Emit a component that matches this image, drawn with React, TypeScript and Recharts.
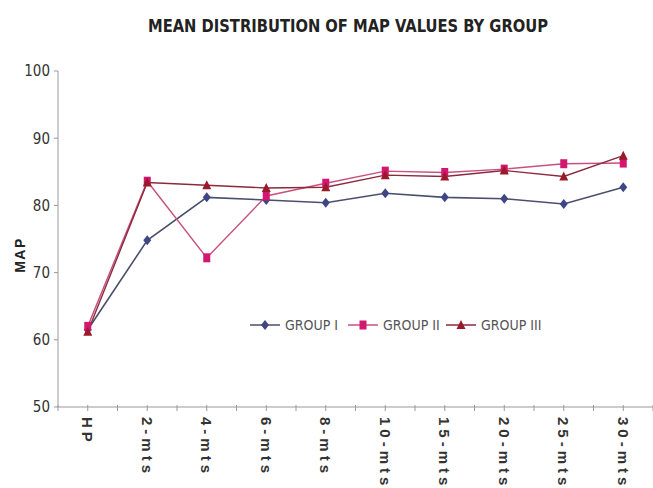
import React from "react";
import { LineChart, Line, XAxis, YAxis } from "recharts";

const categories = ["HP", "2-mts", "4-mts", "6-mts", "8-mts", "10-mts", "15-mts", "20-mts", "25-mts", "30-mts"];
const groupI = [61.5, 74.8, 81.2, 80.8, 80.4, 81.8, 81.2, 81.0, 80.2, 82.7];
const groupII = [62.0, 83.6, 72.2, 81.4, 83.3, 85.1, 84.9, 85.4, 86.2, 86.3];
const groupIII = [61.2, 83.4, 83.0, 82.6, 82.7, 84.5, 84.3, 85.2, 84.3, 87.4];
const yTicks = [50, 60, 70, 80, 90, 100];

const seriesNames = ["GROUP I", "GROUP II", "GROUP III"];

const data = categories.map((c, i) => ({
    name: c,
    g1: groupI[i],
    g2: groupII[i],
    g3: groupIII[i],
}));

const W = 653;
const H = 488;
const LEFT = 58;
const BAND = (W - LEFT) / categories.length;
const narrow = "'Liberation Sans Narrow', 'DejaVu Sans Condensed', 'Liberation Sans', sans-serif";

const Diamond = ({ cx, cy, color }: any) => (
    <polygon points={`${cx},${cy - 5} ${cx + 4},${cy} ${cx},${cy + 5} ${cx - 4},${cy}`} fill={color} />
);
const Square = ({ cx, cy, color }: any) => (
    <rect x={cx - 3.5} y={cy - 4.5} width={7} height={9} fill={color} />
);
const Triangle = ({ cx, cy, color }: any) => (
    <polygon points={`${cx},${cy - 5} ${cx + 4.5},${cy + 4} ${cx - 4.5},${cy + 4}`} fill={color} />
);

const XTick = ({ x, y, payload, index }: any) => (
    <g>
        <line x1={x} x2={x} y1={y - 2} y2={y + 4} stroke="#999" />
        <line x1={x - BAND / 2} x2={x - BAND / 2} y1={y - 2} y2={y + 4} stroke="#999" />
        {index === categories.length - 1 && (
            <line x1={x + BAND / 2} x2={x + BAND / 2} y1={y - 2} y2={y + 4} stroke="#999" />
        )}
        <text
            x={x}
            y={y + 10}
            transform={`rotate(90, ${x}, ${y + 10})`}
            textAnchor="start"
            dominantBaseline="central"
            fontFamily="'Liberation Sans', Arial, sans-serif"
            fontWeight="bold"
            fontSize={15}
            letterSpacing={4}
            fill="#333"
        >
            {payload.value}
        </text>
    </g>
);

const legendItems = [
    { name: seriesNames[0], line: "#4b4f6e", Mark: Diamond, color: "#3f4684" },
    { name: seriesNames[1], line: "#c8507f", Mark: Square, color: "#d3166f" },
    { name: seriesNames[2], line: "#8a2a3c", Mark: Triangle, color: "#9a1a2c" },
];

export default function App() {
    return (
        <div style={{ position: "absolute", left: 0, top: 0, width: W, height: H, background: "#fff" }}>
            <svg width={W} height={40} style={{ position: "absolute", left: 0, top: 0 }}>
                <text
                    x={148}
                    y={32}
                    textLength={400}
                    lengthAdjust="spacingAndGlyphs"
                    fontFamily={narrow}
                    fontWeight="bold"
                    fontSize={17}
                    fill="#222"
                >
                    MEAN DISTRIBUTION OF MAP VALUES BY GROUP
                </text>
            </svg>
            <LineChart
                width={W}
                height={H}
                data={data}
                margin={{ top: 71, right: 0, bottom: 0, left: 0 }}
            >
                <XAxis
                    dataKey="name"
                    scale="band"
                    stroke="#999"
                    tickLine={false}
                    tickSize={0}
                    tickMargin={0}
                    height={81}
                    interval={0}
                    tick={<XTick />}
                />
                <YAxis
                    domain={[50, 100]}
                    ticks={yTicks}
                    width={LEFT}
                    stroke="#999"
                    tickSize={4}
                    tickMargin={4}
                    tick={{ fontFamily: narrow, fontSize: 15, fill: "#333" }}
                    label={{
                        value: "MAP",
                        content: (p: any) => {
                            const vb = p.viewBox;
                            const cx = vb.x + 20;
                            const cy = vb.y + vb.height / 2 + 16;
                            return (
                                <text
                                    x={cx}
                                    y={cy}
                                    transform={`rotate(-90, ${cx}, ${cy})`}
                                    textAnchor="middle"
                                    dominantBaseline="central"
                                    fontFamily="'Liberation Sans', Arial, sans-serif"
                                    fontWeight="bold"
                                    fontSize={14}
                                    letterSpacing={1.5}
                                    fill="#222"
                                >
                                    MAP
                                </text>
                            );
                        },
                    }}
                />
                <Line
                    dataKey="g1"
                    name={seriesNames[0]}
                    stroke="#4b4f6e"
                    strokeWidth={1.6}
                    dot={(p: any) => <Diamond key={p.index} cx={p.cx} cy={p.cy} color="#3f4684" />}
                    activeDot={false}
                    isAnimationActive={false}
                />
                <Line
                    dataKey="g2"
                    name={seriesNames[1]}
                    stroke="#c8507f"
                    strokeWidth={1.4}
                    dot={(p: any) => <Square key={p.index} cx={p.cx} cy={p.cy} color="#d3166f" />}
                    activeDot={false}
                    isAnimationActive={false}
                />
                <Line
                    dataKey="g3"
                    name={seriesNames[2]}
                    stroke="#8a2a3c"
                    strokeWidth={1.4}
                    dot={(p: any) => <Triangle key={p.index} cx={p.cx} cy={p.cy} color="#9a1a2c" />}
                    activeDot={false}
                    isAnimationActive={false}
                />
            </LineChart>
            <svg width={310} height={24} style={{ position: "absolute", left: 245, top: 313 }}>
                {legendItems.map((it, i) => {
                    const x0 = 5 + i * 98;
                    return (
                        <g key={it.name}>
                            <line x1={x0} x2={x0 + 30} y1={12} y2={12} stroke={it.line} strokeWidth={1.5} />
                            <it.Mark cx={x0 + 15} cy={12} color={it.color} />
                            <text
                                x={x0 + 35}
                                y={12}
                                dominantBaseline="central"
                                fontFamily={narrow}
                                fontSize={14}
                                fill="#555"
                            >
                                {it.name}
                            </text>
                        </g>
                    );
                })}
            </svg>
        </div>
    );
}
